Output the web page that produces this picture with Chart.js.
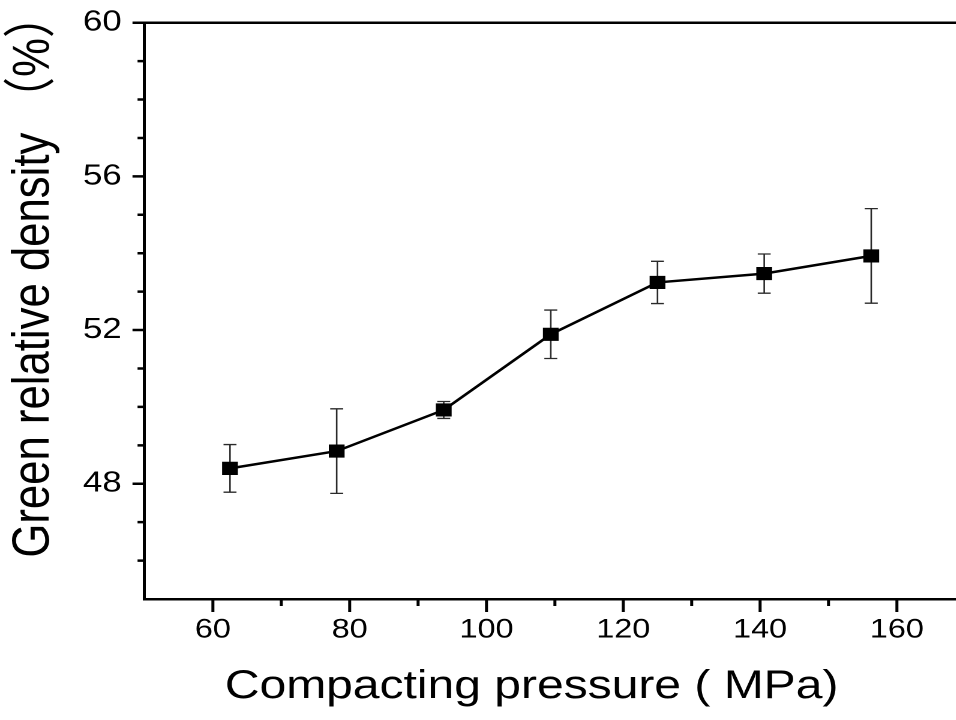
<!DOCTYPE html>
<html>
<head>
<meta charset="utf-8">
<script src="https://cdn.jsdelivr.net/npm/chart.js@4/dist/chart.umd.min.js"></script>
<style>
html,body{margin:0;padding:0;background:#fff;overflow:hidden;width:956px;height:720px;}
#wrap{width:814px;height:720px;transform:scaleX(1.2);transform-origin:0 0;}
canvas{display:block;}
</style>
</head>
<body>
<div id="wrap"><canvas id="c" width="814" height="720"></canvas></div>
<script>
// ---- data ----
const pressure = [62.5, 78.1, 93.75, 109.4, 125, 140.6, 156.25];      // MPa
const density  = [48.40, 48.85, 49.92, 51.89, 53.24, 53.47, 53.93];   // %
const densityErr = [0.62, 1.10, 0.22, 0.63, 0.55, 0.51, 1.23];        // ± %
const xMajorTicks = [60, 80, 100, 120, 140, 160];
const yMajorTicks = [48, 52, 56, 60];
const xTitle = 'Compacting pressure ( MPa)';
const yTitle = 'Green relative density （%）';

const FONT = "'Liberation Sans', Arial, 'Noto Sans CJK SC', sans-serif";

const extrasPlugin = {
  id: 'extras',
  beforeDatasetsDraw(chart) {
    const {ctx} = chart;
    const xs = chart.scales.x, ys = chart.scales.y;
    ctx.save();
    ctx.strokeStyle = '#2a2a2a';
    ctx.lineWidth = 1.3;
    const cap = 5.4;
    pressure.forEach((p, i) => {
      const x = xs.getPixelForValue(p);
      const yt = ys.getPixelForValue(density[i] + densityErr[i]);
      const yb = ys.getPixelForValue(density[i] - densityErr[i]);
      ctx.beginPath();
      ctx.moveTo(x, yt); ctx.lineTo(x, yb);
      ctx.moveTo(x - cap, yt); ctx.lineTo(x + cap, yt);
      ctx.moveTo(x - cap, yb); ctx.lineTo(x + cap, yb);
      ctx.stroke();
    });
    ctx.restore();
  },
  afterDraw(chart) {
    const {ctx, chartArea} = chart;
    const xs = chart.scales.x, ys = chart.scales.y;
    ctx.save();
    ctx.strokeStyle = '#000';
    ctx.lineWidth = 2.5;
    ctx.beginPath();
    xs.ticks.forEach(t => {
      if (t.value <= xs.min || t.value >= xs.max) return;
      const x = xs.getPixelForValue(t.value);
      const len = xMajorTicks.includes(t.value) ? 13 : 7;
      ctx.moveTo(x, chartArea.bottom); ctx.lineTo(x, chartArea.bottom + len);
    });
    ys.ticks.forEach(t => {
      if (t.value <= ys.min) return;
      const y = ys.getPixelForValue(t.value);
      const len = yMajorTicks.includes(t.value) ? 10 : 5.8;
      ctx.moveTo(chartArea.left, y); ctx.lineTo(chartArea.left - len, y);
    });
    // top frame line
    const yTop = ys.getPixelForValue(ys.max);
    ctx.moveTo(chartArea.left - 10, yTop); ctx.lineTo(chart.width, yTop);
    ctx.stroke();

    // axis titles
    ctx.fillStyle = '#000';
    ctx.font = "40px " + FONT;
    ctx.textAlign = 'center';
    ctx.textBaseline = 'alphabetic';
    ctx.fillText(xTitle, 443, 698);
    ctx.translate(40.5, 276);
    ctx.rotate(-Math.PI / 2);
    ctx.font = "43.7px " + FONT;
    ctx.fillText(yTitle, 0, 0);
    ctx.restore();
  }
};

new Chart(document.getElementById('c'), {
  type: 'line',
  data: {
    datasets: [{
      data: pressure.map((p, i) => ({x: p, y: density[i]})),
      borderColor: '#000',
      borderWidth: 2.5,
      backgroundColor: '#000',
      pointStyle: 'rect',
      pointRadius: 8.6,
      pointBorderWidth: 1,
      pointBackgroundColor: '#000',
      pointBorderColor: '#000',
      tension: 0
    }]
  },
  options: {
    responsive: false,
    animation: false,
    devicePixelRatio: 2,
    layout: {padding: {top: 22.7, right: 0, left: 0, bottom: 0}},
    plugins: {legend: {display: false}, tooltip: {enabled: false}},
    scales: {
      x: {
        type: 'linear', position: 'bottom',
        min: 50, max: 170,
        afterFit(s) { s.height = 121; s.paddingLeft = 0; s.paddingRight = 0; },
        border: {display: true, color: '#000', width: 2.5},
        grid: {display: true, drawOnChartArea: false, drawTicks: false, color: 'rgba(0,0,0,0)'},
        ticks: {
          stepSize: 10, autoSkip: false, maxRotation: 0, padding: 15,
          color: '#000', font: {family: FONT, size: 27},
          callback: v => xMajorTicks.includes(v) ? String(v) : ''
        },
        title: {display: false}
      },
      y: {
        type: 'linear', position: 'left',
        min: 45, max: 60,
        afterFit(s) { s.width = 120.4; s.paddingTop = 0; s.paddingBottom = 0; },
        border: {display: true, color: '#000', width: 2.5},
        grid: {display: true, drawOnChartArea: false, drawTicks: false, color: 'rgba(0,0,0,0)'},
        ticks: {
          stepSize: 1, autoSkip: false, padding: 19,
          color: '#000', font: {family: FONT, size: 29},
          callback: v => yMajorTicks.includes(v) ? String(v) : ''
        },
        title: {display: false}
      }
    }
  },
  plugins: [extrasPlugin]
});
</script>
</body>
</html>
